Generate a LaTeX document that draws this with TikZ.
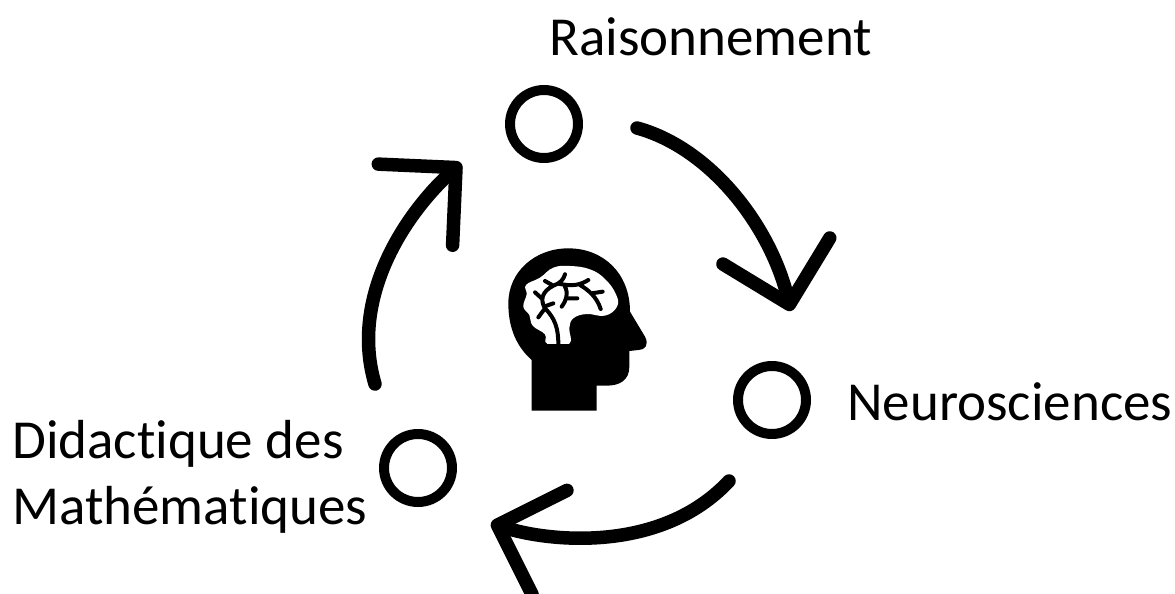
\documentclass[tikz,border=0pt]{standalone}
\usepackage{fontspec}
\setmainfont[Ligatures=NoCommon]{Carlito}
\usetikzlibrary{arrows.meta}
\tikzset{
	lab/.style={inner sep=0pt,anchor=base west,font=\fontsize{31.3}{37}\selectfont},
	ring/.style={circle,draw,line width=0.2cm,minimum size=1.36cm,inner sep=0pt},
	flow/.style={line width=0.27cm,line cap=round,-{Straight Barb[length=1.1cm,width=2.2cm,line width=0.27cm,round]}},
}
\begin{document}
\begin{tikzpicture}[x=0.02cm,y=-0.02cm]
		\useasboundingbox (0,0) rectangle (1175,594);
		\node[ring] (top) at (544,124) {};
		\node[ring] (right) at (772,400) {};
		\node[ring] (left) at (418,468) {};
		\node[lab] (raisonnement) at (549,56) {Raisonnement};
		\node[lab] (neuro) at (847,420) {Neurosciences};
		\node[lab,align=left] (didactique) at (12,524) {Didactique des\\Mathématiques};
		\coordinate (a0) at (637,128);
		\coordinate (a1) at (791,311);
		\coordinate (b0) at (729,481);
		\coordinate (b1) at (491,523);
		\coordinate (c0) at (375,384);
		\coordinate (c1) at (461,163);
		\draw[flow] (a0) .. controls (710,148) and (770,225) .. (a1);
		\draw[flow] (b0) .. controls (660,555) and (545,541) .. (b1);
		\draw[flow] (c0) .. controls (350,300) and (402,217) .. (c1);
		% head
		\begin{scope}[shift={(490,235)},x=0.00667cm,y=-0.00667cm]
		\fill (125,527) -- (125,375) .. controls (80,335) and (55,280) .. (55,205)
			.. controls (55,110) and (135,40) .. (235,40)
			.. controls (340,40) and (420,115) .. (420,230)
			-- (465,305) .. controls (478,330) and (465,345) .. (445,345)
			-- (418,348) -- (418,395) .. controls (418,435) and (390,452) .. (350,452)
			-- (320,452) -- (320,527) -- cycle;
		\fill[white] plot[smooth cycle,tension=0.7] coordinates {(172,326) (165,298) (128,272) (118,240) (100,215) (110,178) (108,150) (150,128) (190,98) (240,93) (300,103) (345,132) (378,178) (381,215) (345,242) (290,237) (250,250) (238,280) (238,326)};
		\fill[white] (172,300) rectangle (238,326);
		\fill (150,326) rectangle (260,350);
		\draw[line width=0.08cm,line cap=round,line join=round]
			(205,328) .. controls (205,280) and (195,250) .. (165,220)
			.. controls (150,195) and (155,170) .. (190,152)
			.. controls (210,145) and (220,135) .. (225,118)
			(165,220) -- (145,247)
			(170,212) -- (190,205)
			(155,190) -- (135,172)
			(190,152) -- (165,138)
			(205,146) .. controls (250,155) and (270,150) .. (295,135)
			(225,155) .. controls (235,175) and (230,195) .. (215,215)
			(232,190) -- (262,190)
			(270,150) .. controls (295,165) and (320,185) .. (332,222)
			(305,175) -- (338,170);
		\end{scope}
		\end{tikzpicture}
\end{document}
